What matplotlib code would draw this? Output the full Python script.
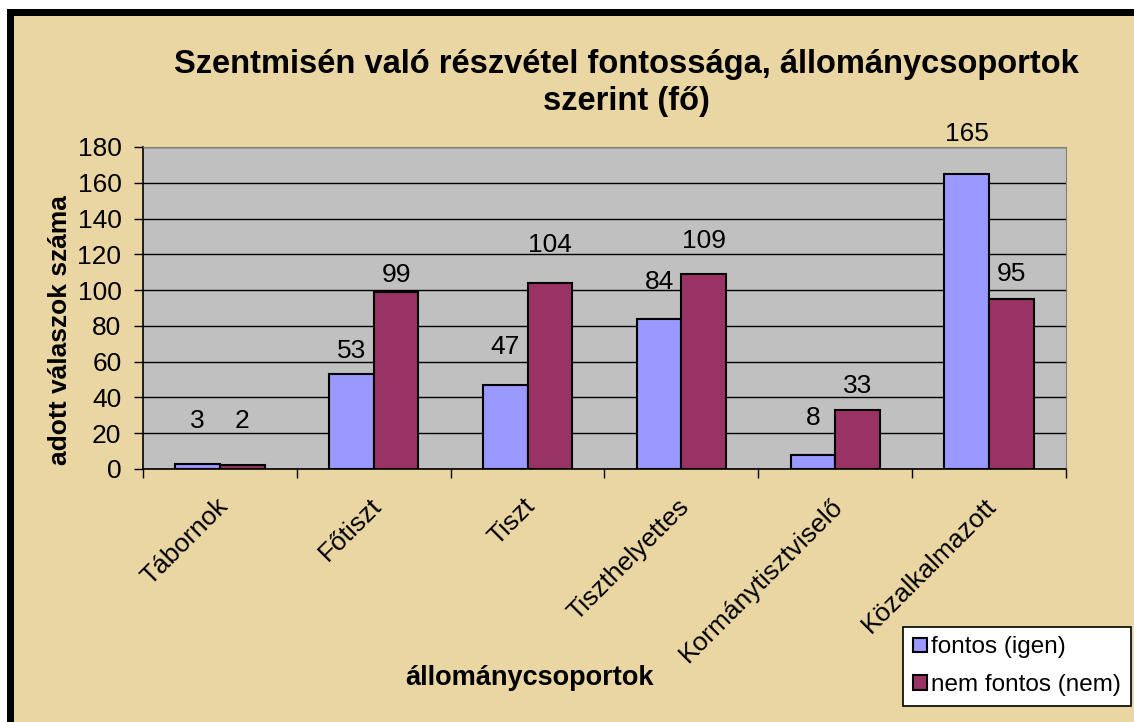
import matplotlib
matplotlib.use("Agg")
import matplotlib.pyplot as plt
from matplotlib.patches import Rectangle
import numpy as np

plt.rcParams['font.family'] = ['Liberation Sans', 'DejaVu Sans']

categories = ["Tábornok", "Főtiszt", "Tiszt", "Tiszthelyettes", "Kormánytisztviselő", "Közalkalmazott"]
fontos = [3, 53, 47, 84, 8, 165]
nem_fontos = [2, 99, 104, 109, 33, 95]
series_names = ["fontos (igen)", "nem fontos (nem)"]
title = "Szentmisén való részvétel fontossága, állománycsoportok\nszerint (fő)"
xlabel = "állománycsoportok"
ylabel = "adott válaszok száma"

# label vertical offsets above bar top (points, to text baseline)
off_fontos = [26, 11.5, 22.3, 21.6, 21.6, 23.8]
off_nem = [26.6, 7.2, 22.3, 18.7, 12.2, 13]

W, H = 1134, 722
fig = plt.figure(figsize=(W / 100, H / 100), dpi=100)
fig.patch.set_facecolor('white')
bg = "#E9D6A2"
fig.add_artist(Rectangle((7 / W, 0), 1 - 7 / W, 1 - 9 / H, transform=fig.transFigure,
                         facecolor=bg, edgecolor='none', zorder=-10))
fig.add_artist(Rectangle((7 / W, 1 - 16 / H), 1 - 7 / W, 7 / H, transform=fig.transFigure,
                         facecolor='black', edgecolor='none', zorder=-5))
fig.add_artist(Rectangle((7 / W, 0), 7 / W, 1 - 9 / H, transform=fig.transFigure,
                         facecolor='black', edgecolor='none', zorder=-5))

left, right, bottom, top = 143 / W, 1066 / W, 1 - 469 / H, 1 - 147 / H
ax = fig.add_axes([left, bottom, right - left, top - bottom])
ax.set_facecolor("#C0C0C0")

x = np.arange(len(categories))
bw = 0.29
b1 = ax.bar(x - bw / 2, fontos, bw, color="#9999FF", edgecolor="black", linewidth=1.5,
            label=series_names[0], zorder=3)
b2 = ax.bar(x + bw / 2, nem_fontos, bw, color="#993366", edgecolor="black", linewidth=1.5,
            label=series_names[1], zorder=3)

for xs, vals, offs in ((x - bw / 2, fontos, off_fontos), (x + bw / 2, nem_fontos, off_nem)):
    for xi, v, o in zip(xs, vals, offs):
        ax.annotate(str(v), (xi, v), xytext=(0, o), textcoords='offset points',
                    ha='center', va='baseline', fontsize=19, annotation_clip=False)

ax.set_xlim(-0.5, len(categories) - 0.5)
ax.set_ylim(0, 180)
ax.set_yticks(np.arange(0, 181, 20))
ax.yaxis.grid(True, color='black', linewidth=1.0, zorder=1)
ax.set_axisbelow(True)
ax.tick_params(axis='y', labelsize=19, length=6.5, width=1, direction='out', pad=9)

ax.set_xticks(np.arange(-0.5, len(categories), 1.0))
ax.set_xticklabels([])
ax.set_xticks(x - 0.03, minor=True)
ax.set_xticklabels(categories, minor=True, rotation=45, ha='right', va='top',
                   rotation_mode='anchor', fontsize=19)
ax.tick_params(axis='x', which='major', length=6.5, width=1, direction='out')
ax.tick_params(axis='x', which='minor', length=0, pad=18)

for s in ['top', 'right']:
    ax.spines[s].set_color('#808080')
for s in ['left', 'bottom']:
    ax.spines[s].set_color('black')
    ax.spines[s].set_linewidth(1.2)

fig.text(626 / W, 1 - 83 / H, title, ha='center', va='center', fontsize=23.5,
         fontweight='bold', linespacing=1.25)
fig.text(530 / W, 1 - 678 / H, xlabel, ha='center', va='center', fontsize=19.5,
         fontweight='bold')
fig.text(60 / W, 1 - 330 / H, ylabel, ha='center', va='center', fontsize=19,
         fontweight='bold', rotation=90)

leg = fig.legend(handles=[b1, b2], loc='lower right', bbox_to_anchor=(1131 / W, 16 / H),
                 fontsize=17.5, frameon=True, fancybox=False, edgecolor='black',
                 framealpha=1, handlelength=0.55, handleheight=0.55, handletextpad=0.2,
                 borderpad=0.4, labelspacing=0.65, borderaxespad=0)
leg.get_frame().set_linewidth(1.2)

fig.savefig("out.png", dpi=100)
